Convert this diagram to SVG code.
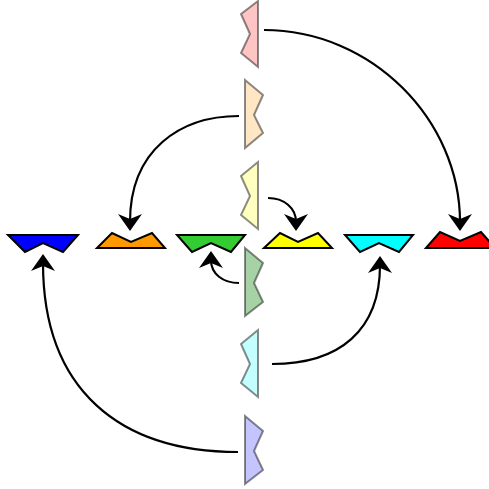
<svg xmlns="http://www.w3.org/2000/svg" width="489" height="489" viewBox="0 0 489 489">
<style>
.h{stroke:#000;stroke-width:2;stroke-linejoin:miter}
.v{stroke:#000;stroke-opacity:0.45;stroke-width:2;stroke-linejoin:miter}
.e{fill:none;stroke:#000;stroke-width:2.2;marker-end:url(#ah)}
</style>
<defs>
<marker id="ah" markerUnits="userSpaceOnUse" viewBox="-10 -15 20 30" markerWidth="20" markerHeight="30" refX="0" refY="0" orient="auto" overflow="visible">
<path d="M9,0 L-8,-12 L-3,0 L-8,12 Z" fill="#000"/>
</marker>
</defs>
<rect width="489" height="489" fill="#fff"/>
<g id="connectors">
<path class="e" d="M264,30 C372,30 460,120 460,222"/>
<path class="e" d="M239,116 C180,116 130,150 130,222"/>
<path class="e" d="M268,198 C284,198 296,208 296,222"/>
<path class="e" d="M239,283 C223,283 211,274 211,260"/>
<path class="e" d="M272,364 C340,364 380,330 380,265"/>
<path class="e" d="M238,452 C120,452 43,390 43,263"/>
</g>
<g id="v-pink"><polygon class="v" fill="#ffc4c4" points="258,1 241,14 250,34 241,53 258,67"/></g>
<g id="v-peach"><polygon class="v" fill="#ffe6c4" points="245,80 263,95 254,115 263,133 245,148"/></g>
<g id="v-yellow"><polygon class="v" fill="#ffffc0" points="258,162 241,176 250,196 241,215 258,229"/></g>
<g id="v-green"><polygon class="v" fill="#a6d2a6" points="245,248 263,263 254,283 263,302 245,316"/></g>
<g id="v-cyan"><polygon class="v" fill="#c4ffff" points="258,330 241,344 250,364 241,383 258,397"/></g>
<g id="v-blue"><polygon class="v" fill="#c4c4ff" points="245,416 263,431 254,451 263,470 245,484"/></g>
<g id="h-blue"><polygon class="h" fill="#0000ff" points="8,235 78,235 63,252 43,243 25,252"/></g>
<g id="h-orange"><polygon class="h" fill="#ff9900" points="97,248 112,233 131,242 152,233 165,248"/></g>
<g id="h-green"><polygon class="h" fill="#33cc33" points="177,235 245,235 231,252 211,243 192,252"/></g>
<g id="h-yellow"><polygon class="h" fill="#ffff00" points="264,248 280,233 298,242 318,233 332,248"/></g>
<g id="h-cyan"><polygon class="h" fill="#00ffff" points="345,235 413,235 399,252 379,243 360,252"/></g>
<g id="h-red"><polygon class="h" fill="#ff0000" points="426,248 440,232 460,241 481,232 495,248"/></g>
</svg>
